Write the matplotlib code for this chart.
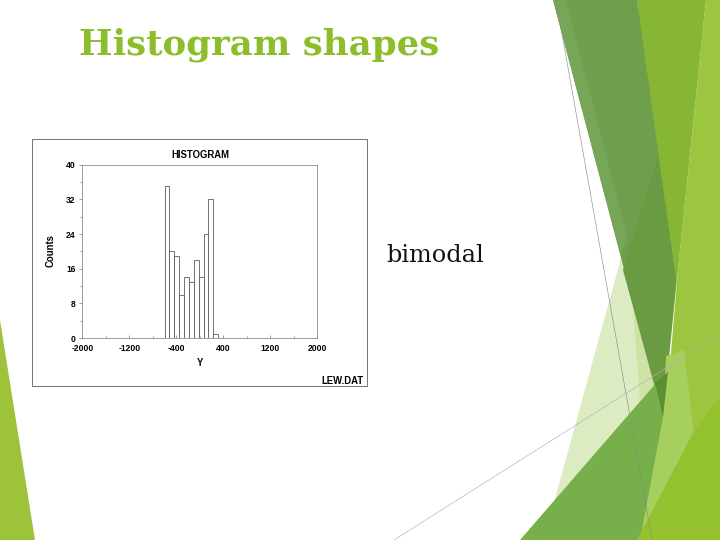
import matplotlib.pyplot as plt
from matplotlib.patches import Polygon, Rectangle

plt.rcParams['axes.unicode_minus'] = False

# histogram data (LEW.DAT), bins of width 83 starting at -1845
bin_start = -1845
bin_width = 83
counts = [0] * 15 + [35, 20, 19, 10, 14, 13, 18, 14, 24, 32, 1] + [0] * 14
x_ticks = [-2000, -1200, -400, 400, 1200, 2000]
y_ticks = [0, 8, 16, 24, 32, 40]

fig = plt.figure(figsize=(10, 7.5), dpi=72)

# slide background in pixel coordinates
bg = fig.add_axes([0, 0, 1, 1])
bg.set_xlim(0, 720)
bg.set_ylim(540, 0)
bg.axis('off')

shapes = [
    ([(706, 0), (720, 0), (720, 540), (655, 540), (678, 270)], '#9cc640'),
    ([(637, 0), (706, 0), (678, 270), (663, 417)], '#87b534'),
    ([(621, 258), (660, 380), (552, 510)], '#dcebc1'),
    ([(630, 265), (645, 330), (660, 380), (640, 400)], '#cfe2a6'),
    ([(553, 0), (637, 0), (676, 280), (663, 417)], '#6f9e4c'),
    ([(553, 0), (566, 0), (628, 240), (620, 252)], '#78a658'),
    ([(658, 157), (676, 280), (663, 417), (623, 270)], '#6a9a42'),
    ([(520, 540), (663, 375), (700, 540)], '#77b04a'),
    ([(666, 356), (684, 350), (694, 435), (647, 540), (640, 540), (663, 417)],
     '#a7cf5e'),
    ([(637, 540), (693, 433), (720, 397), (720, 540)], '#93c22e'),
    ([(655, 383), (668, 372), (663, 417)], '#5a9030'),
    ([(0, 320), (0, 540), (35, 540)], '#9dc33b'),
]
for pts, col in shapes:
    bg.add_patch(Polygon(pts, closed=True, facecolor=col, edgecolor='none'))

bg.plot([556, 652], [0, 540], color='#8a8a8a', lw=0.6)
bg.plot([394, 720], [540, 334], color='#b0b0b0', lw=0.6)

bg.text(79, 54, 'Histogram shapes', color='#8cbe2c', fontsize=35.5,
        fontweight='bold', family='DejaVu Serif', va='baseline')
bg.text(386, 262, 'bimodal', color='#111111', fontsize=24,
        family='DejaVu Serif', va='baseline')

# picture frame of the embedded plot
sans = 'Liberation Sans'
bg.add_patch(Rectangle((32, 139), 335, 247, facecolor='white',
                       edgecolor='#777777', lw=1))
bg.text(200, 155, 'HISTOGRAM', fontsize=9.5, fontweight='bold',
        family=sans, ha='center', va='center')
bg.text(51, 251, 'Counts', fontsize=9.5, fontweight='bold',
        family=sans, ha='center', va='center', rotation=90)
bg.text(200, 363, 'Y', fontsize=9.5, fontweight='bold',
        family=sans, ha='center', va='center')
bg.text(364, 381, 'LEW.DAT', fontsize=9.5, fontweight='bold',
        family=sans, ha='right', va='center')

# the histogram itself
ax = fig.add_axes([82.3 / 720, 1 - 338 / 540, 235 / 720, 173.3 / 540])
lefts = [bin_start + i * bin_width for i in range(len(counts))]
ax.bar(lefts, counts, width=bin_width, align='edge', facecolor='white',
       edgecolor='#555555', lw=0.8)
ax.set_xlim(-2000, 2000)
ax.set_ylim(0, 40)
ax.set_xticks(x_ticks)
ax.set_yticks(y_ticks)
ax.set_xticks(range(-1600, 2000, 800), minor=True)
ax.set_yticks(range(4, 40, 8), minor=True)
for s in ax.spines.values():
    s.set_color('#888888')
    s.set_linewidth(0.8)
ax.tick_params(axis='x', direction='in', length=3, width=0.6, pad=6,
               color='#666666')
ax.tick_params(axis='x', which='minor', direction='in', length=2, width=0.6,
               color='#666666')
ax.tick_params(axis='y', direction='out', length=3, width=0.6, pad=4,
               color='#666666')
ax.tick_params(axis='y', which='minor', direction='out', length=2, width=0.6,
               color='#666666')
for lab in ax.get_xticklabels() + ax.get_yticklabels():
    lab.set_fontsize(8.5)
    lab.set_fontweight('bold')
    lab.set_family(sans)

fig.savefig('out.png', dpi=72)
